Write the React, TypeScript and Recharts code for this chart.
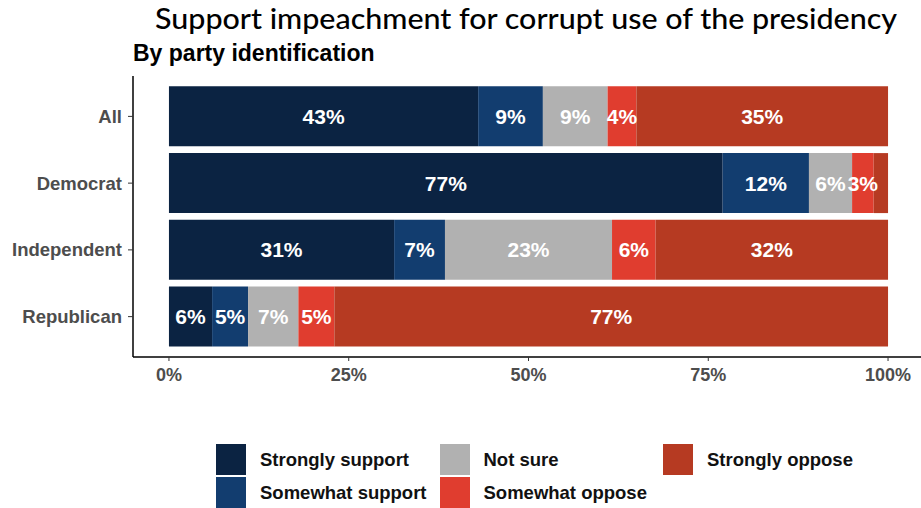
import React from 'react';
import { BarChart, Bar, XAxis, YAxis, LabelList } from 'recharts';

const parties = ['All', 'Democrat', 'Independent', 'Republican'];
const strongSupport = [43, 77, 31, 6];
const someSupport = [9, 12, 7, 5];
const notSure = [9, 6, 23, 7];
const someOppose = [4, 3, 6, 5];
const strongOppose = [35, 2, 32, 77];
const xTicks = [0, 25, 50, 75, 100];

const series = [
  { key: 'ss', name: 'Strongly support', values: strongSupport, color: '#0b2342' },
  { key: 'ws', name: 'Somewhat support', values: someSupport, color: '#123d6f' },
  { key: 'ns', name: 'Not sure', values: notSure, color: '#b1b1b1' },
  { key: 'wo', name: 'Somewhat oppose', values: someOppose, color: '#e03d2f' },
  { key: 'so', name: 'Strongly oppose', values: strongOppose, color: '#b63a22' },
];

// shares normalised to 100 per row, raw values kept for labels
const data = parties.map((party, i) => {
  const total = series.reduce((s, d) => s + d.values[i], 0);
  const row: Record<string, string | number> = { party };
  series.forEach((d) => {
    row[d.key] = (d.values[i] / total) * 100;
    row[d.key + '_raw'] = d.values[i];
  });
  return row;
});

const legendCols = [
  [series[0], series[1]],
  [series[2], series[3]],
  [series[4]],
];

export default function App() {
  return (
    <div
      style={{
        position: 'absolute',
        left: 0,
        top: 0,
        width: 921,
        height: 508,
        overflow: 'hidden',
        background: '#fff',
        fontFamily: '"Liberation Sans", Arial, sans-serif',
      }}
    >
      <svg width={921} height={70} style={{ position: 'absolute', left: 0, top: 0 }}>
        <text
          x={155}
          y={29}
          fontFamily="Lato, 'DejaVu Sans', sans-serif"
          fontSize={28}
          fontWeight={500}
          fill="#000"
          textLength={742}
          lengthAdjust="spacingAndGlyphs"
        >
          Support impeachment for corrupt use of the presidency
        </text>
        <text
          x={133}
          y={61}
          fontFamily="'Liberation Sans', Arial, sans-serif"
          fontSize={23}
          fontWeight="bold"
          fill="#000"
        >
          By party identification
        </text>
      </svg>
      <div style={{ position: 'absolute', left: 0, top: 0 }}>
        <BarChart
          width={930}
          height={400}
          data={data}
          layout="vertical"
          margin={{ top: 76, right: 6, bottom: 0, left: 0 }}
          barCategoryGap="5%"
        >
          <XAxis
            type="number"
            domain={[-5, 105]}
            ticks={xTicks}
            allowDataOverflow
            tickFormatter={(v) => v + '%'}
            axisLine={{ stroke: '#000', strokeWidth: 1.5 }}
            tickLine={{ stroke: '#333' }}
            tickSize={4}
            tickMargin={7}
            height={43}
            tick={{ fill: '#4d4d4d', fontSize: 18, fontWeight: 'bold' }}
          />
          <YAxis
            type="category"
            dataKey="party"
            width={133}
            padding={{ top: 7, bottom: 7 }}
            axisLine={{ stroke: '#000', strokeWidth: 1.5 }}
            tickLine={{ stroke: '#333' }}
            tickSize={5}
            tickMargin={6}
            tick={{ fill: '#4d4d4d', fontSize: 18.5, fontWeight: 'bold' }}
          />
          {series.map((s) => (
            <Bar
              key={s.key}
              dataKey={s.key}
              name={s.name}
              stackId="a"
              fill={s.color}
              isAnimationActive={false}
            >
              <LabelList
                dataKey={s.key + '_raw'}
                position="center"
                fill="#fff"
                fontSize={21}
                fontWeight="bold"
                formatter={(v: any) => (Number(v) >= 3 ? v + '%' : '')}
              />
            </Bar>
          ))}
        </BarChart>
      </div>
      {legendCols.map((col, ci) => (
        <div
          key={ci}
          style={{ position: 'absolute', left: 216 + ci * 223.5, top: 444 }}
        >
          {col.map((s, ri) => (
            <div
              key={s.key}
              style={{
                position: 'absolute',
                top: ri * 33,
                left: 0,
                display: 'flex',
                alignItems: 'center',
                whiteSpace: 'nowrap',
              }}
            >
              <div style={{ width: 30, height: 31, background: s.color }} />
              <span style={{ marginLeft: 14, fontSize: 18.5, fontWeight: 'bold', color: '#111' }}>
                {s.name}
              </span>
            </div>
          ))}
        </div>
      ))}
    </div>
  );
}
